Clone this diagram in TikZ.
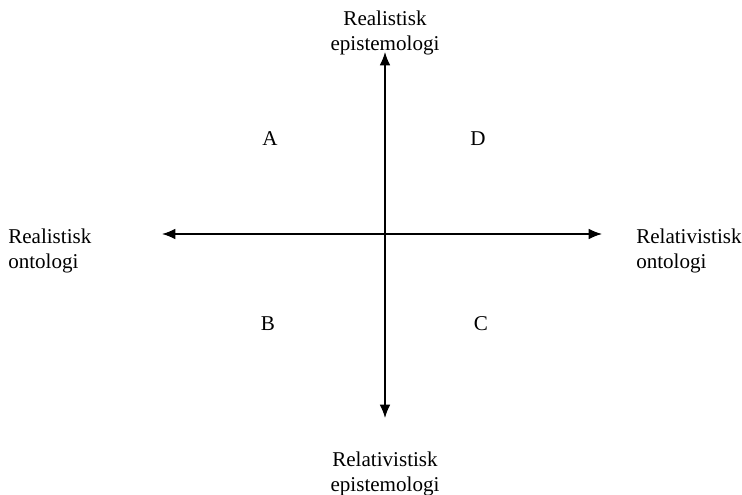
\documentclass[tikz,border=0pt]{standalone}
\usepackage{fontspec}
\setmainfont{Liberation Serif}
\usetikzlibrary{arrows.meta}
\begin{document}
\begin{tikzpicture}[x=0.75pt, y=-0.75pt, >={Latex[length=10pt,width=8pt]},
    lbl/.style={font=\fontsize{15.8pt}{18.8pt}\selectfont, align=center, inner sep=0pt},
    quad/.style={font=\fontsize{15.8pt}{18.8pt}\selectfont, inner sep=0pt}]
    \useasboundingbox (0,0) rectangle (742,495);
    % axes
    \coordinate (west) at (162,234);
    \coordinate (east) at (602,234);
    \coordinate (north) at (385,52);
    \coordinate (south) at (385,418);
    \draw[<->, line width=1pt] (west) -- (east);
    \draw[<->, line width=1pt] (north) -- (south);
    % axis labels
    \node[lbl] (realepi) at (385,33) {Realistisk\\epistemologi};
    \node[lbl] (relepi) at (385,474) {Relativistisk\\epistemologi};
    \node[lbl, align=left, anchor=west] (realont) at (8,251) {Realistisk\\ontologi};
    \node[lbl, align=left, anchor=west] (relont) at (636,251) {Relativistisk\\ontologi};
    % quadrants
    \node[quad] (qa) at (270,139) {A};
    \node[quad] (qd) at (478,139) {D};
    \node[quad] (qb) at (268,324) {B};
    \node[quad] (qc) at (481,324) {C};
\end{tikzpicture}
\end{document}
